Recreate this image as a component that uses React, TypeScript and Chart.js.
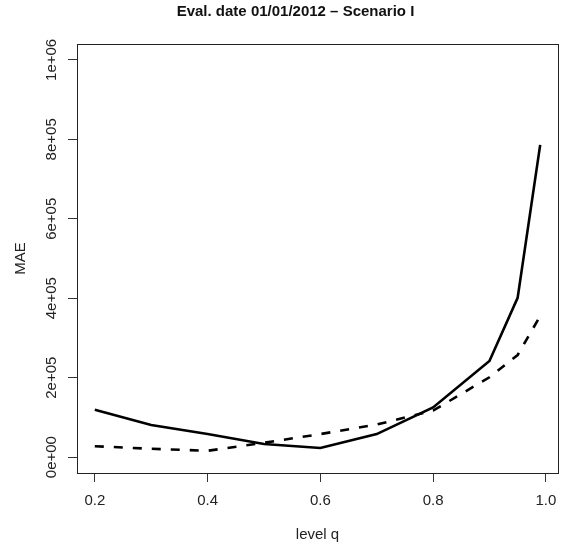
import React, { useEffect, useRef } from "react";
import { Chart, registerables } from "chart.js";

Chart.register(...registerables);

const levels = [0.2, 0.3, 0.4, 0.5, 0.6, 0.7, 0.8, 0.9, 0.95, 0.99];
const maeSolid = [119000, 81000, 58000, 33000, 23000, 58000, 125000, 242000, 401000, 786000];
const maeDashed = [27500, 21000, 16000, 36000, 58000, 82000, 117000, 201000, 257000, 355000];
const xTicks = [0.2, 0.4, 0.6, 0.8, 1.0];
const yTicks = [0, 200000, 400000, 600000, 800000, 1000000];
const titleText = "Eval. date 01/01/2012 \u2013 Scenario I";
const xLabel = "level q";
const yLabel = "MAE";

const FONT = "'Liberation Sans', Arial, Helvetica, sans-serif";

function sci(v: number): string {
  if (v === 0) return "0e+00";
  const e = Math.floor(Math.log10(Math.abs(v)) + 1e-9);
  const m = Math.round(v / Math.pow(10, e));
  const es = (e < 0 ? "-" : "+") + String(Math.abs(e)).padStart(2, "0");
  return `${m}e${es}`;
}

const boxPlugin = {
  id: "rbox",
  beforeDraw(chart: any) {
    const { ctx, width, height } = chart;
    ctx.save();
    ctx.fillStyle = "#ffffff";
    ctx.fillRect(0, 0, width, height);
    ctx.restore();
  },
  afterDraw(chart: any) {
    const { ctx, chartArea } = chart;
    ctx.save();
    ctx.strokeStyle = "#222";
    ctx.lineWidth = 1;
    ctx.strokeRect(
      Math.round(chartArea.left) + 0.5,
      Math.round(chartArea.top) + 0.5,
      Math.round(chartArea.right - chartArea.left),
      Math.round(chartArea.bottom - chartArea.top)
    );
    // main title (R places it slightly left of the plot-region centre here)
    ctx.fillStyle = "#111";
    ctx.font = `bold 15px ${FONT}`;
    ctx.textAlign = "center";
    ctx.textBaseline = "alphabetic";
    ctx.fillText(titleText, 295.5, 15.5);
    ctx.restore();
  },
};

export default function App() {
  const ref = useRef<HTMLCanvasElement | null>(null);

  useEffect(() => {
    document.body.style.margin = "0";
    const canvas = ref.current;
    if (!canvas) return;
    const chart = new Chart(canvas, {
      type: "line",
      data: {
        datasets: [
          {
            label: "solid",
            data: levels.map((x, i) => ({ x, y: maeSolid[i] })),
            borderColor: "#000",
            borderWidth: 2.6,
            pointRadius: 0,
            tension: 0,
            fill: false,
          },
          {
            label: "dashed",
            data: levels.map((x, i) => ({ x, y: maeDashed[i] })),
            borderColor: "#000",
            borderWidth: 2.6,
            borderDash: [9, 10],
            pointRadius: 0,
            tension: 0,
            fill: false,
          },
        ],
      },
      options: {
        responsive: false,
        animation: false,
        layout: { padding: { left: 0, right: 4, top: 44, bottom: 0 } },
        plugins: {
          legend: { display: false },
          tooltip: { enabled: false },
          title: { display: false },
        },
        scales: {
          x: {
            type: "linear",
            min: 0.1684,
            max: 1.0216,
            afterBuildTicks: (scale: any) => {
              scale.ticks = xTicks.map((v) => ({ value: v }));
            },
            afterFit: (scale: any) => {
              scale.height = 73;
              scale.paddingLeft = 0;
              scale.paddingRight = 0;
            },
            grid: {
              display: true,
              drawOnChartArea: false,
              drawTicks: true,
              tickLength: 9,
              color: "#333",
            },
            border: { display: true, color: "#222" },
            ticks: {
              color: "#222",
              padding: 10,
              maxRotation: 0,
              font: { family: FONT, size: 15 },
              callback: (v: any) => Number(v).toFixed(1),
            },
            title: {
              display: true,
              text: xLabel,
              color: "#222",
              font: { family: FONT, size: 15 },
              padding: { top: 0, bottom: 2 },
            },
          },
          y: {
            type: "linear",
            min: -40000,
            max: 1040000,
            afterBuildTicks: (scale: any) => {
              scale.ticks = yTicks.map((v) => ({ value: v }));
            },
            afterFit: (scale: any) => {
              scale.width = 77;
              scale.paddingTop = 0;
              scale.paddingBottom = 0;
            },
            grid: {
              display: true,
              drawOnChartArea: false,
              drawTicks: true,
              tickLength: 9,
              color: "#333",
            },
            border: { display: true, color: "#222" },
            ticks: {
              color: "#222",
              padding: -5,
              minRotation: 90,
              maxRotation: 90,
              crossAlign: "center",
              font: { family: FONT, size: 15 },
              callback: (v: any) => sci(Number(v)),
            },
            title: {
              display: true,
              text: yLabel,
              color: "#222",
              font: { family: FONT, size: 15 },
              padding: { top: 12, bottom: 0 },
            },
          },
        },
      },
      plugins: [boxPlugin],
    });
    return () => chart.destroy();
  }, []);

  return (
    <div style={{ width: 562, height: 546 }}>
      <canvas ref={ref} width={562} height={546} style={{ display: "block" }} />
    </div>
  );
}
